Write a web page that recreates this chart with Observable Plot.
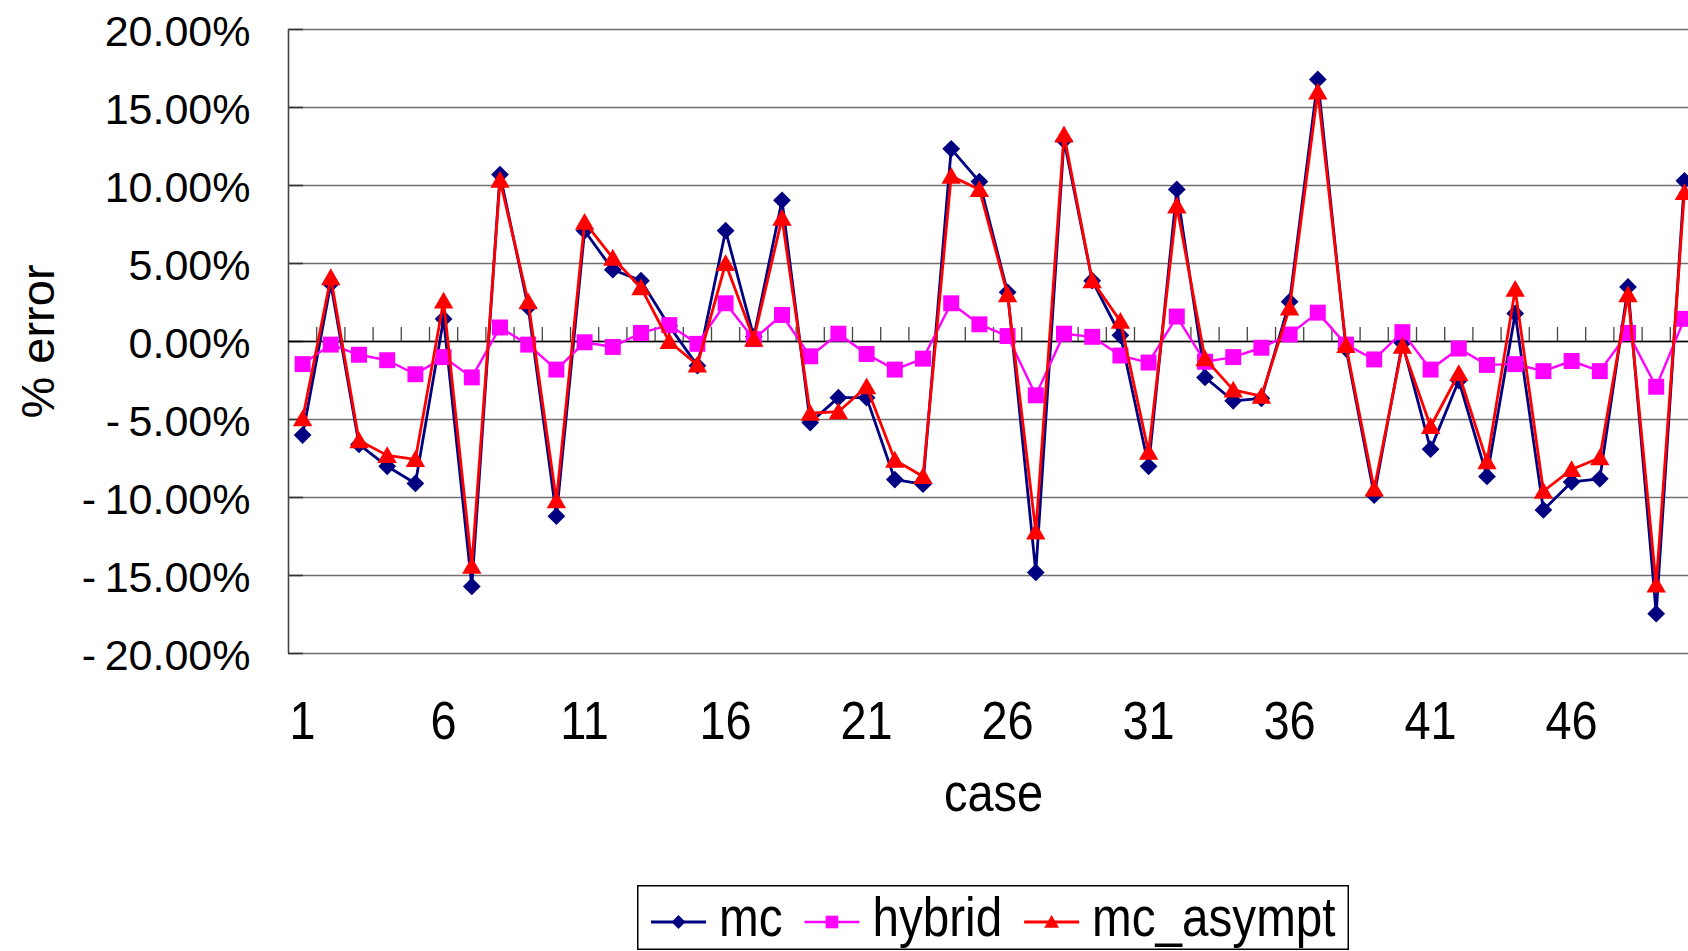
<!DOCTYPE html>
<html><head><meta charset="utf-8">
<script src="https://cdn.jsdelivr.net/npm/d3@7"></script>
<script src="https://cdn.jsdelivr.net/npm/@observablehq/plot@0.6"></script>
<style>
html,body{margin:0;padding:0;background:#fff;overflow:hidden;}
#chart svg{display:block;overflow:hidden;}
#legend{position:absolute;left:637px;top:885px;}
#legend svg{display:block;}
</style></head><body>
<div id="chart"></div><div id="legend"></div>
<script>
const cases = [1,2,3,4,5,6,7,8,9,10,11,12,13,14,15,16,17,18,19,20,21,22,23,24,25,26,27,28,29,30,31,32,33,34,35,36,37,38,39,40,41,42,43,44,45,46,47,48,49,50];
const mc = [-6.0,3.7,-6.6,-8.0,-9.1,1.45,-15.7,10.7,2.2,-11.2,7.1,4.6,3.9,1.0,-1.55,7.1,0.3,9.05,-5.2,-3.6,-3.6,-8.85,-9.15,12.35,10.25,3.15,-14.8,12.9,3.9,0.4,-8.0,9.75,-2.3,-3.8,-3.65,2.55,16.8,-0.45,-9.85,-0.1,-6.9,-2.5,-8.65,1.8,-10.8,-9.0,-8.8,3.5,-17.45,10.3];
const hybrid = [-1.45,-0.2,-0.85,-1.2,-2.1,-1.0,-2.3,0.9,-0.2,-1.8,-0.05,-0.35,0.55,1.05,-0.15,2.45,0.15,1.7,-0.95,0.5,-0.8,-1.8,-1.1,2.45,1.1,0.35,-3.45,0.5,0.3,-0.9,-1.35,1.6,-1.3,-1.0,-0.4,0.45,1.85,-0.2,-1.15,0.6,-1.8,-0.45,-1.5,-1.45,-1.9,-1.25,-1.9,0.55,-2.9,1.45];
const mcAsympt = [-4.95,4.1,-6.35,-7.3,-7.55,2.6,-14.4,10.35,2.55,-10.2,7.65,5.35,3.45,0.0,-1.5,5.0,0.15,7.9,-4.6,-4.5,-2.9,-7.6,-8.65,10.6,9.75,3.0,-12.2,13.25,3.9,1.3,-7.1,8.7,-1.1,-3.1,-3.5,2.15,16.0,-0.25,-9.45,-0.3,-5.45,-2.05,-7.7,3.35,-9.6,-8.2,-7.45,3.0,-15.6,9.55];
const seriesNames = ["mc","hybrid","mc_asympt"];
const seriesValues = [mc, hybrid, mcAsympt];
const seriesColors = ["#000080","#FF00FF","#FF0000"];
const seriesSymbols = ["diamond2","square","triangle"];
const seriesR = [8.0, 9.0, 7.2];
const seriesWidth = [2.8, 2.4, 2.8];
const yTicks = [-20,-15,-10,-5,0,5,10,15,20];
const xTickLabels = [1,6,11,16,21,26,31,36,41,46];
const xAxisTitle = "case";
const yAxisTitle = "% error";

const xDomain = [cases[0] - 0.5, cases[cases.length - 1] + 0.5];
const boundaries = cases.slice(0, -1).map(c => c + 0.5);
const fmtY = d => (d < 0 ? "-\u2009" : "") + Math.abs(d).toFixed(2) + "%";
const narrow = "'Liberation Sans Narrow','Liberation Sans',Arial,sans-serif";
const regular = "'Liberation Sans',Arial,sans-serif";
const squeeze = 0.87;
const legendSqueeze = 0.85;

const seriesMarks = [];
seriesNames.forEach((name, i) => {
  const rows = cases.map((c, j) => ({case: c, value: seriesValues[i][j]}));
  seriesMarks.push(Plot.line(rows, {x: "case", y: "value", stroke: seriesColors[i], strokeWidth: seriesWidth[i], strokeLinejoin: "miter"}));
  seriesMarks.push(Plot.dot(rows, {x: "case", y: "value", symbol: seriesSymbols[i], fill: seriesColors[i], stroke: "none", r: seriesR[i], dy: seriesSymbols[i] === "triangle" ? 2 : 0}));
});

const chart = Plot.plot({
  width: 1688, height: 872,
  marginLeft: 288, marginRight: 0, marginTop: 29, marginBottom: 219,
  x: {domain: xDomain, range: [288, 1698], axis: null},
  y: {domain: [yTicks[0], yTicks[yTicks.length - 1]], axis: null},
  style: {background: "white", fontFamily: regular},
  marks: [
    Plot.ruleY(yTicks, {stroke: "#707070", strokeWidth: 1.3}),
    Plot.ruleY(yTicks, {x1: xDomain[0], x2: xDomain[0] + 0.53, stroke: "#333", strokeWidth: 1.6}),
    Plot.ruleX([xDomain[0]], {stroke: "#444", strokeWidth: 1.6}),
    Plot.ruleY([0], {stroke: "#000", strokeWidth: 1.6}),
    Plot.ruleX(boundaries, {y1: 0, y2: 0.9, stroke: "#444", strokeWidth: 1.3}),
    Plot.text(yTicks, {x: xDomain[0], y: d => d, text: fmtY, textAnchor: "end", dx: -38, dy: 3, fontSize: 43, fontFamily: regular, fill: "#000"}),
    Plot.text(xTickLabels, {x: d => d, text: d => String(d), frameAnchor: "bottom", lineAnchor: "middle", dy: 68, fontSize: 54, fontFamily: narrow, fill: "#000"}),
    Plot.text([xAxisTitle], {x: d3.mean(xDomain), text: d => d, frameAnchor: "bottom", lineAnchor: "middle", dy: 140, fontSize: 54, fontFamily: narrow, fill: "#000"}),
    Plot.text([yAxisTitle], {text: d => d, frameAnchor: "left", textAnchor: "middle", lineAnchor: "middle", dx: -250, rotate: -90, fontSize: 47, fontFamily: regular, fill: "#000"}),
    ...seriesMarks
  ]
});
document.getElementById("chart").appendChild(chart);

// condense the narrow-font labels (Arial Narrow look)
function condense(textEl, k) {
  const w = textEl.getComputedTextLength();
  textEl.setAttribute("textLength", (w * k).toFixed(1));
  textEl.setAttribute("lengthAdjust", "spacingAndGlyphs");
  return w * k;
}
chart.querySelectorAll("g").forEach(g => {
  if (g.getAttribute("font-family") === narrow) g.querySelectorAll("text").forEach(t => condense(t, squeeze));
});

// legend (box drawn inside a slightly wider svg so nothing touches its edge)
const boxW = 712, legH = 65, svgW = 790;
const leg = d3.select("#legend").append("svg").attr("width", svgW).attr("height", legH).style("overflow", "visible");
leg.append("rect").attr("x", 0.75).attr("y", 0.75).attr("width", boxW - 1.5).attr("height", legH - 1.5)
  .attr("fill", "white").attr("stroke", "#000").attr("stroke-width", 1.5);
const d3Symbols = {diamond2: d3.symbolDiamond2, square: d3.symbolSquare, triangle: d3.symbolTriangle};
const legendSize = [125, 160, 95];
let lx = 14;
seriesNames.forEach((name, i) => {
  const g = leg.append("g");
  g.append("line").attr("x1", lx).attr("x2", lx + 55).attr("y1", 37).attr("y2", 37)
    .attr("stroke", seriesColors[i]).attr("stroke-width", seriesWidth[i]);
  g.append("path").attr("transform", `translate(${lx + 27.5},${seriesSymbols[i] === "triangle" ? 38.5 : 37})`)
    .attr("d", d3.symbol(d3Symbols[seriesSymbols[i]], legendSize[i])())
    .attr("fill", seriesColors[i]);
  const t = g.append("text").attr("x", lx + 68).attr("y", 51)
    .attr("font-family", narrow).attr("font-size", 55).attr("fill", "#000").text(name);
  const w = condense(t.node(), legendSqueeze * 56 / 55);
  lx += 68 + w + 22;
});
</script>
</body></html>
